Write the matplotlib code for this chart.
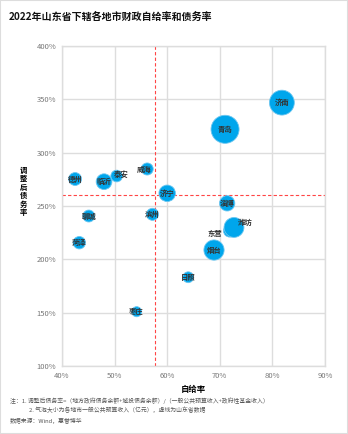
import matplotlib.pyplot as plt
from matplotlib.ticker import FuncFormatter
from matplotlib.patches import Rectangle

plt.rcParams['font.family'] = ['Noto Sans CJK SC', 'DejaVu Sans']

cities = ['济南', '青岛', '淄博', '枣庄', '东营', '烟台', '潍坊', '济宁',
          '泰安', '威海', '日照', '临沂', '德州', '聊城', '滨州', '菏泽']
self_rate = [81.8, 71.0, 71.4, 54.2, 71.9, 68.9, 72.7, 60.0,
             50.4, 56.2, 64.0, 48.0, 42.5, 45.1, 57.2, 43.3]
debt_rate = [346.9, 321.9, 252.5, 150.9, 226.8, 208.7, 229.9, 261.9,
             278.1, 284.7, 183.2, 272.8, 275.3, 240.6, 242.2, 215.6]
revenue = [1001, 1273, 380, 165, 260, 661, 640, 440,
           220, 235, 190, 400, 270, 230, 235, 250]

prov_self = 57.7
prov_debt = 260.0

# label offsets in points for crowded bubbles
offsets = {'东营': (-11, -2), '潍坊': (8, 4), '泰安': (3, 1), '威海': (-2, 0)}

fig = plt.figure(figsize=(3.48, 4.34), dpi=100)
fig.patches.append(Rectangle((0, 0), 1, 1, transform=fig.transFigure,
                             fill=False, edgecolor='#dddddd', linewidth=1.5))
ax = fig.add_axes([0.178, 0.1567, 0.756, 0.7373])

ax.scatter(self_rate, debt_rate, s=[r * 0.32 for r in revenue],
           color='#00a6ec', edgecolor='#6cc6f0', linewidth=0.6, zorder=3)

for name, x, y in zip(cities, self_rate, debt_rate):
    dx, dy = offsets.get(name, (0, 0))
    ax.annotate(name, (x, y), xytext=(dx, dy), textcoords='offset points',
                ha='center', va='center', fontsize=5.3, fontweight='bold',
                color='#333333', zorder=4)

ax.axvline(prov_self, color='#ff4545', linestyle=(0, (3, 2)), linewidth=0.8, zorder=2)
ax.axhline(prov_debt, color='#ff4545', linestyle=(0, (3, 2)), linewidth=0.8, zorder=2)

ax.set_xlim(40, 90)
ax.set_ylim(100, 400)
ax.set_xticks(range(40, 91, 10))
ax.set_yticks(range(100, 401, 50))
pct = FuncFormatter(lambda v, p: f'{v:.0f}%')
ax.xaxis.set_major_formatter(pct)
ax.yaxis.set_major_formatter(pct)
ax.tick_params(length=0, labelsize=5.5, labelcolor='#777777', pad=4)
ax.grid(color='#dddddd', linewidth=1)
ax.set_axisbelow(True)
for sp in ax.spines.values():
    sp.set_color('#dddddd')
    sp.set_linewidth(1)

ax.set_xlabel('自给率', fontsize=6, fontweight='bold', labelpad=4)

# vertical y label, one upright character per row
for i, ch in enumerate('调整后债务率'):
    fig.text(0.068, 0.608 - i * 0.0195, ch, fontsize=5.3, fontweight='bold',
             ha='center', va='center')

fig.text(0.026, 0.961, '2022年山东省下辖各地市财政自给率和债务率',
         fontsize=7.2, fontweight='bold', color='#111111', va='center')

note_color = '#555555'
fig.text(0.029, 0.078, '注：1. 调整后债务率=（地方政府债务余额+城投债务余额）/（一般公共预算收入+政府性基金收入）',
         fontsize=4.2, color=note_color, va='center')
fig.text(0.083, 0.055, '2. 气泡大小为各地市一般公共预算收入（亿元），虚线为山东省数据',
         fontsize=4.2, color=note_color, va='center')
fig.text(0.029, 0.030, '数据来源：Wind，惠誉博华',
         fontsize=4.2, color=note_color, va='center')

fig.savefig('out.png', dpi=100)
